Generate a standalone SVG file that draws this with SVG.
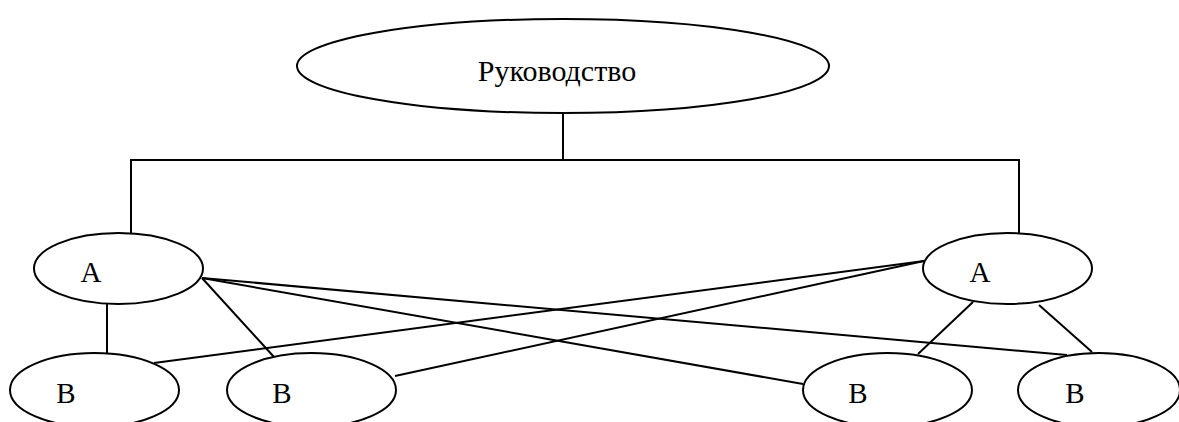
<svg xmlns="http://www.w3.org/2000/svg" width="1179" height="422" viewBox="0 0 1179 422">
<style>
.n{fill:#fff;stroke:#000;stroke-width:2}
.t{font-family:"Liberation Serif","Times New Roman",serif;font-size:29px;fill:#000;text-anchor:middle}
.big{font-size:30px}
#edges line,#edges polyline{stroke:#000;stroke-width:2;fill:none}
</style>
<rect width="1179" height="422" fill="#fff"/>
<g id="edges">
<line x1="563" y1="113" x2="563" y2="160"/>
<polyline points="131,233 131,160 1019,160 1019,233"/>
<line x1="107" y1="304" x2="107" y2="353"/>
<line x1="202" y1="278" x2="274" y2="357"/>
<line x1="202" y1="278" x2="1067" y2="355"/>
<line x1="202" y1="278" x2="803" y2="384"/>
<line x1="924" y1="261" x2="154" y2="363"/>
<line x1="924" y1="261" x2="395" y2="376"/>
<line x1="973" y1="302" x2="918" y2="354"/>
<line x1="1039" y1="305" x2="1092" y2="352"/>
</g>
<g id="top"><ellipse class="n" cx="563" cy="66" rx="266" ry="47"/><text class="t big" x="557" y="81">Руководство</text></g>
<g id="a1"><ellipse class="n" cx="118.5" cy="268.5" rx="84.5" ry="35.5"/><text class="t" x="91" y="282">A</text></g>
<g id="a2"><ellipse class="n" cx="1007.5" cy="268.5" rx="84.5" ry="35.5"/><text class="t" x="980" y="282">A</text></g>
<g id="b1"><ellipse class="n" cx="94.5" cy="390" rx="84.5" ry="37"/><text class="t" x="66" y="403">B</text></g>
<g id="b2"><ellipse class="n" cx="311.5" cy="390" rx="84.5" ry="37"/><text class="t" x="282" y="403">B</text></g>
<g id="b3"><ellipse class="n" cx="887.5" cy="390" rx="84.5" ry="37"/><text class="t" x="858" y="403">B</text></g>
<g id="b4"><ellipse class="n" cx="1099" cy="390" rx="81" ry="37"/><text class="t" x="1075" y="403">B</text></g>
</svg>
